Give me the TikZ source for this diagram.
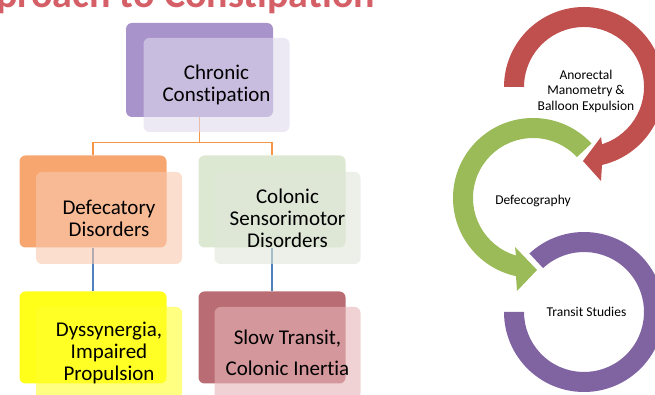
\documentclass[tikz,border=0pt]{standalone}
\usepackage{fontspec}
\setmainfont{Carlito}[Ligatures=NoCommon]
\definecolor{titlered}{HTML}{D55F66}
\definecolor{ccback}{HTML}{A893CB}
\definecolor{ccfront}{HTML}{DFD9ED}
\definecolor{ddback}{HTML}{F7A670}
\definecolor{ddfront}{HTML}{F8C8AC}
\definecolor{csback}{HTML}{DDE8D2}
\definecolor{csfront}{HTML}{DFE6D9}
\definecolor{dyback}{HTML}{FFFF1A}
\definecolor{dyfront}{HTML}{FFFF2F}
\definecolor{stback}{HTML}{B96C73}
\definecolor{stfront}{HTML}{E6B4B7}
\definecolor{orangeline}{HTML}{F79646}
\definecolor{blueline}{HTML}{4F81BD}
\definecolor{ringred}{HTML}{C0504D}
\definecolor{ringgreen}{HTML}{9BBB59}
\definecolor{ringpurple}{HTML}{8064A2}
\begin{document}
\begin{tikzpicture}[x=1pt,y=1pt,
  backbox/.style={rectangle, rounded corners=6pt, minimum width=147pt,
    minimum height=92pt, inner sep=0pt},
  frontbox/.style={rectangle, rounded corners=6pt, minimum width=146pt,
    minimum height=92pt, inner sep=0pt, fill opacity=0.6, text opacity=1,
    align=center, font=\fontsize{21}{22}\selectfont},
  orangelink/.style={draw=orangeline, line width=1.3pt},
  bluelink/.style={draw=blueline, line width=1.3pt},
  ringtext/.style={align=center, font=\fontsize{13.5}{15.5}\selectfont}
]
\useasboundingbox (0,0) rectangle (655,395);
\clip (0,0) rectangle (655,395);

% heading (runs off the top edge)
\node[anchor=base east, text=titlered, inner sep=0pt,
  font=\fontsize{40}{40}\bfseries\selectfont] (title) at (375,387)
  {Approach to Constipation};

% back layer of the hierarchy
\node[backbox, fill=ccback, minimum height=94pt] (cc) at (199.5,325) {};
\node[backbox, fill=ddback] (dd) at (93,193.5) {};
\node[backbox, fill=csback] (cs) at (272,193.5) {};
\node[backbox, fill=dyback] (dy) at (93,57.5) {};
\node[backbox, fill=stback] (st) at (272,57.5) {};

% connectors
\draw[orangelink] (cc.south) -- ++(0,-25) coordinate (fork) -| (dd.north);
\draw[orangelink] (fork) -| (cs.north);
\draw[bluelink] (dd.south) -- (dy.north);
\draw[bluelink] (cs.south) -- (st.north);

% front layer with the labels
\node[frontbox, fill=ccfront, minimum height=94pt] (ccf) at (216.5,310)
  {Chronic\\Constipation};
\node[frontbox, fill=ddfront] (ddf) at (109,177) {Defecatory\\Disorders};
\node[frontbox, fill=csfront] (csf) at (287.5,177)
  {Colonic\\Sensorimotor\\Disorders};
\node[frontbox, fill=dyfront] (dyf) at (109,42)
  {Dyssynergia,\\Impaired\\Propulsion};
\node[frontbox, fill=stfront, font=\fontsize{21}{31}\selectfont] (stf)
  at (287.5,42) {Slow Transit,\\Colonic Inertia};

% circular arrows
\begin{scope}[shift={(584,308)}]
  \fill[ringred] (180:80) arc[start angle=180, end angle=-77, radius=80]
    -- (17,-94) -- (-1,-74) -- (17,-50)
    -- (-72.5:60) arc[start angle=-72.5, end angle=180, radius=60] -- cycle;
\end{scope}
\begin{scope}[shift={(533,197)}]
  \fill[ringgreen] (43:80) arc[start angle=43, end angle=257.7, radius=80]
    -- (-16,-93) -- (4,-72) -- (-18,-49)
    -- (253.5:60) arc[start angle=253.5, end angle=43, radius=60] -- cycle;
\end{scope}
\begin{scope}[shift={(584,83)}]
  \fill[ringpurple] (180:80) arc[start angle=180, end angle=493, radius=80]
    -- (493:60) arc[start angle=493, end angle=180, radius=60] -- cycle;
\end{scope}

\node[ringtext] (amt) at (586,304) {Anorectal\\Manometry \&\\Balloon Expulsion};
\node[ringtext] (dfg) at (533,194) {Defecography};
\node[ringtext] (tst) at (586.5,83) {Transit Studies};
\end{tikzpicture}
\end{document}
